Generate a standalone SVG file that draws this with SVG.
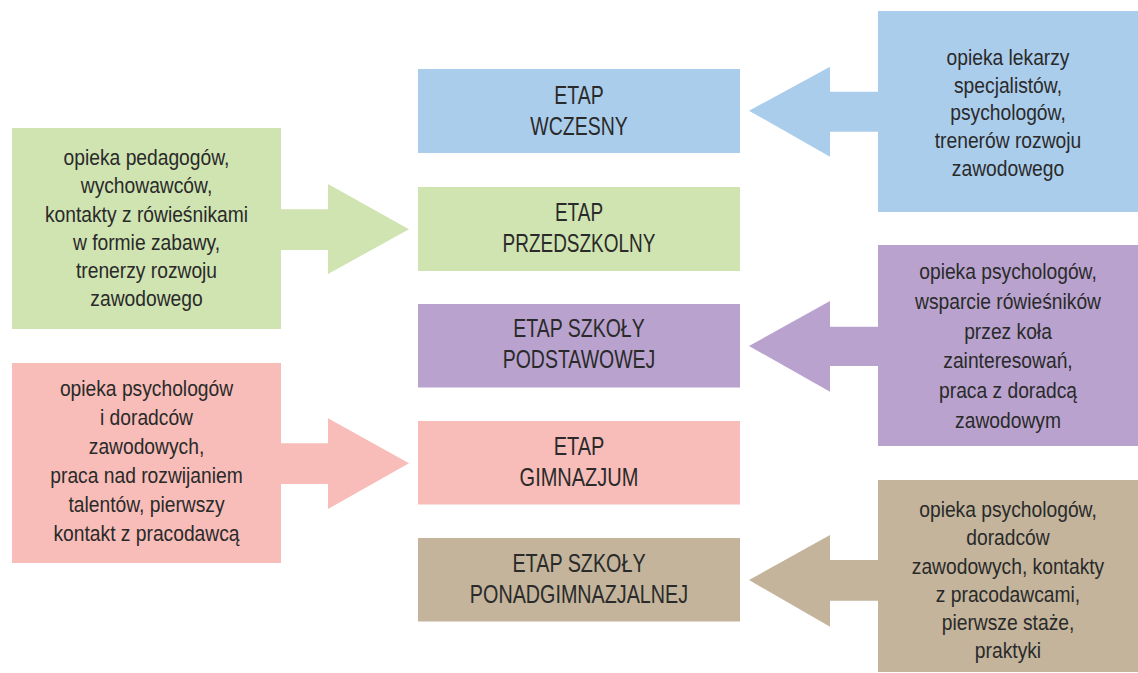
<svg xmlns="http://www.w3.org/2000/svg" width="1138" height="673" viewBox="0 0 1138 673">
  <style>
    text { font-family: "Liberation Sans", Arial, sans-serif; fill: #2a2a2a; text-anchor: middle; }
    .stage text { font-size: 25px; }
    .side text { font-size: 22px; }
    .blue { fill: #abcdec; }
    .green { fill: #d0e4b2; }
    .purple { fill: #b9a3ce; }
    .pink { fill: #f8bdb8; }
    .tan { fill: #c3b49b; }
  </style>
  <rect width="1138" height="673" fill="#ffffff"/>

  <!-- block arrows joining the side notes to the stages -->
  <g id="connectors">
    <polygon class="blue" points="878,91.7 830,91.7 830,66.7 749,110.7 830,156.7 830,131.7 878,131.7"/>
    <polygon class="green" points="281,209.3 328,209.3 328,184 409,229.3 328,274 328,250 281,250"/>
    <polygon class="purple" points="878,326.7 830,326.7 830,301 749,346 830,391.7 830,366 878,366"/>
    <polygon class="pink" points="281,443.3 328,443.3 328,418.3 409,463.3 328,509 328,484 281,484"/>
    <polygon class="tan" points="878,560 830,560 830,535 749,580 830,626.7 830,600.7 878,600.7"/>
  </g>

  <!-- stages (condensed lettering via horizontal scale) -->
  <g id="stage-wczesny" class="stage">
    <rect class="blue" x="418" y="69" width="322" height="84"/>
    <g transform="translate(579,0) scale(0.78,1)">
      <text x="0" y="104">ETAP</text>
      <text x="0" y="135">WCZESNY</text>
    </g>
  </g>
  <g id="stage-przedszkolny" class="stage">
    <rect class="green" x="418" y="187" width="322" height="84"/>
    <g transform="translate(579,0) scale(0.76,1)">
      <text x="0" y="221">ETAP</text>
      <text x="0" y="252.5">PRZEDSZKOLNY</text>
    </g>
  </g>
  <g id="stage-podstawowa" class="stage">
    <rect class="purple" x="418" y="304" width="322" height="83.5"/>
    <g transform="translate(579,0) scale(0.78,1)">
      <text x="0" y="337.5">ETAP SZKOŁY</text>
      <text x="0" y="368.5">PODSTAWOWEJ</text>
    </g>
  </g>
  <g id="stage-gimnazjum" class="stage">
    <rect class="pink" x="418" y="421" width="322" height="83.5"/>
    <g transform="translate(579,0) scale(0.8,1)">
      <text x="0" y="455.5">ETAP</text>
      <text x="0" y="486.5">GIMNAZJUM</text>
    </g>
  </g>
  <g id="stage-ponadgimnazjalna" class="stage">
    <rect class="tan" x="418" y="538" width="322" height="83.5"/>
    <g transform="translate(579,0) scale(0.79,1)">
      <text x="0" y="572.5">ETAP SZKOŁY</text>
      <text x="0" y="603.5">PONADGIMNAZJALNEJ</text>
    </g>
  </g>

  <!-- side notes -->
  <g id="note-wczesny" class="side">
    <rect class="blue" x="878" y="11" width="260" height="201"/>
    <g transform="translate(1008,0) scale(0.875,1)">
      <text x="0" y="65">opieka lekarzy</text>
      <text x="0" y="92.7">specjalistów,</text>
      <text x="0" y="120.4">psychologów,</text>
      <text x="0" y="148.1">trenerów rozwoju</text>
      <text x="0" y="175.8">zawodowego</text>
    </g>
  </g>
  <g id="note-przedszkolny" class="side">
    <rect class="green" x="12" y="128" width="269" height="201"/>
    <g transform="translate(146.5,0) scale(0.875,1)">
      <text x="0" y="165">opieka pedagogów,</text>
      <text x="0" y="193.3">wychowawców,</text>
      <text x="0" y="221.6">kontakty z rówieśnikami</text>
      <text x="0" y="249.9">w formie zabawy,</text>
      <text x="0" y="278.2">trenerzy rozwoju</text>
      <text x="0" y="306.5">zawodowego</text>
    </g>
  </g>
  <g id="note-podstawowa" class="side">
    <rect class="purple" x="878" y="245" width="260" height="201"/>
    <g transform="translate(1008,0) scale(0.875,1)">
      <text x="0" y="279.3">opieka psychologów,</text>
      <text x="0" y="309">wsparcie rówieśników</text>
      <text x="0" y="338.7">przez koła</text>
      <text x="0" y="368.4">zainteresowań,</text>
      <text x="0" y="398.1">praca z doradcą</text>
      <text x="0" y="427.8">zawodowym</text>
    </g>
  </g>
  <g id="note-gimnazjum" class="side">
    <rect class="pink" x="12" y="363" width="269" height="200"/>
    <g transform="translate(146.5,0) scale(0.875,1)">
      <text x="0" y="396">opieka psychologów</text>
      <text x="0" y="425">i doradców</text>
      <text x="0" y="454">zawodowych,</text>
      <text x="0" y="483">praca nad rozwijaniem</text>
      <text x="0" y="512">talentów, pierwszy</text>
      <text x="0" y="541">kontakt z pracodawcą</text>
    </g>
  </g>
  <g id="note-ponadgimnazjalna" class="side">
    <rect class="tan" x="878" y="480" width="260" height="192"/>
    <g transform="translate(1008,0) scale(0.875,1)">
      <text x="0" y="517.3">opieka psychologów,</text>
      <text x="0" y="545.5">doradców</text>
      <text x="0" y="573.7">zawodowych, kontakty</text>
      <text x="0" y="601.9">z pracodawcami,</text>
      <text x="0" y="630.1">pierwsze staże,</text>
      <text x="0" y="658.3">praktyki</text>
    </g>
  </g>
</svg>
